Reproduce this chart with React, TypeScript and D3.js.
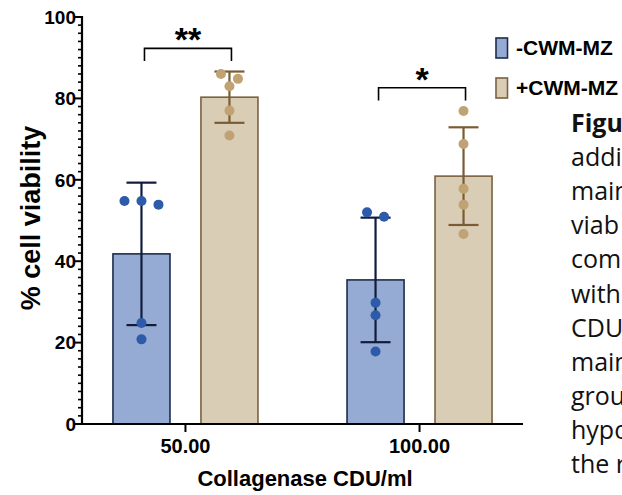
import React from 'react';
import * as d3 from 'd3';

const doses = ['50.00', '100.00'];
const seriesNames = ['-CWM-MZ', '+CWM-MZ'];
const meanMinus = [41.8, 35.4];
const meanPlus = [80.3, 60.9];
const sdMinus = [17.5, 15.3];
const sdPlus = [6.3, 12.0];
const pointsMinus = [
  [54.8, 54.8, 53.9, 24.8, 20.8],
  [52.0, 50.9, 29.8, 26.7, 17.8],
];
const pointsPlus = [
  [86.0, 84.8, 83.0, 77.0, 70.9],
  [76.9, 68.8, 57.8, 53.9, 46.7],
];
const yTicks = [0, 20, 40, 60, 80, 100];
const significance = ['**', '*'];
const captionLines = [
  'Figu', 'addi', 'main', 'viab', 'com', 'with',
  'CDU', 'main', 'grou', 'hypo', 'the r',
];

const W = 622;
const H = 495;
const AX = 82;
const AY = 424;

const colors = {
  minusFill: '#96abd3',
  minusStroke: '#1d2c4c',
  minusErr: '#0f1d3b',
  minusDot: '#2d5aa9',
  plusFill: '#dacdb5',
  plusStroke: '#7b6140',
  plusErr: '#7a5c34',
  plusDot: '#c0a273',
};

function spread(values: number[], ys: (v: number) => number, spacing: number, gap: number) {
  const idx = values.map((_, i) => i).sort((a, b) => values[b] - values[a]);
  const offsets = new Array(values.length).fill(0);
  let cluster: number[] = [];
  const flush = () => {
    cluster.forEach((k, j) => {
      offsets[k] = (j - (cluster.length - 1) / 2) * spacing;
    });
    cluster = [];
  };
  idx.forEach((i) => {
    if (cluster.length && ys(values[i]) - ys(values[cluster[0]]) > gap) flush();
    cluster.push(i);
  });
  flush();
  return offsets;
}

export default function App() {
  const y = d3.scaleLinear().domain([0, 100]).range([AY, 17]);
  const x0 = d3.scalePoint<string>().domain(doses).range([AX, 523]).padding(0.442);
  const x1 = d3.scaleBand<string>().domain(seriesNames).range([-72.5, 72.5]).paddingInner(0.352);
  const bw = x1.bandwidth();
  const minorTicks = d3.range(0, 101, 2).filter((v) => v % 20 !== 0);

  const series = [
    { name: seriesNames[0], means: meanMinus, sds: sdMinus, pts: pointsMinus, fill: colors.minusFill, stroke: colors.minusStroke, err: colors.minusErr, dot: colors.minusDot },
    { name: seriesNames[1], means: meanPlus, sds: sdPlus, pts: pointsPlus, fill: colors.plusFill, stroke: colors.plusStroke, err: colors.plusErr, dot: colors.plusDot },
  ];

  const font = "'Liberation Sans', Arial, sans-serif";

  return (
    <svg width={W} height={H} style={{ position: 'absolute', left: 0, top: 0, background: '#fff' }} fontFamily={font}>
      <defs>
        <clipPath id="pageClip">
          <rect x={0} y={0} width={W} height={H} />
        </clipPath>
      </defs>
      {/* bars */}
      {series.map((s) =>
        doses.map((d, gi) => {
          const cx = (x0(d) as number) + (x1(s.name) as number) + bw / 2;
          return (
            <rect key={s.name + d} x={cx - bw / 2} y={y(s.means[gi])} width={bw} height={AY - y(s.means[gi])}
              fill={s.fill} stroke={s.stroke} strokeWidth={1.6} />
          );
        })
      )}
      {/* error bars */}
      {series.map((s) =>
        doses.map((d, gi) => {
          const cx = (x0(d) as number) + (x1(s.name) as number) + bw / 2;
          const lo = y(s.means[gi] - s.sds[gi]);
          const hi = y(s.means[gi] + s.sds[gi]);
          const cw = 15;
          return (
            <g key={'e' + s.name + d} stroke={s.err} strokeWidth={2.2}>
              <line x1={cx} x2={cx} y1={lo} y2={hi} />
              <line x1={cx - cw} x2={cx + cw} y1={hi} y2={hi} />
              <line x1={cx - cw} x2={cx + cw} y1={lo} y2={lo} />
            </g>
          );
        })
      )}
      {/* points */}
      {series.map((s) =>
        doses.map((d, gi) => {
          const cx = (x0(d) as number) + (x1(s.name) as number) + bw / 2;
          const offs = spread(s.pts[gi], y, 17, 10);
          return s.pts[gi].map((v, k) => (
            <circle key={'p' + s.name + d + k} cx={cx + offs[k]} cy={y(v)} r={5} fill={s.dot} />
          ));
        })
      )}
      {/* y axis */}
      <line x1={AX} x2={AX} y1={y(100) - 1} y2={AY + 1} stroke="#000" strokeWidth={2.2} />
      {minorTicks.map((t) => (
        <line key={'m' + t} x1={AX - 4} x2={AX} y1={y(t)} y2={y(t)} stroke="#000" strokeWidth={1.6} />
      ))}
      {yTicks.map((t) => (
        <g key={'t' + t}>
          <line x1={AX - 7} x2={AX} y1={y(t)} y2={y(t)} stroke="#000" strokeWidth={2} />
          <text x={AX - 6} y={y(t)} dy="0.36em" textAnchor="end" fontSize={19} fontWeight="bold">{t}</text>
        </g>
      ))}
      {/* x axis */}
      <line x1={AX - 1} x2={523} y1={AY} y2={AY} stroke="#000" strokeWidth={2.2} />
      {doses.map((d) => (
        <g key={'x' + d}>
          <line x1={x0(d) as number} x2={x0(d) as number} y1={AY} y2={AY + 8} stroke="#000" strokeWidth={2} />
          <text x={(x0(d) as number)} y={453} textAnchor="middle" fontSize={20} fontWeight="bold">{d}</text>
        </g>
      ))}
      <text x={305} y={486} textAnchor="middle" fontSize={22} fontWeight="bold">Collagenase CDU/ml</text>
      <text transform="translate(40,218) rotate(-90)" textAnchor="middle" fontSize={27} fontWeight="bold">% cell viability</text>
      {/* significance */}
      {doses.map((d, gi) => {
        const xa = (x0(d) as number) + (x1(seriesNames[0]) as number) + bw / 2 + 3;
        const xb = (x0(d) as number) + (x1(seriesNames[1]) as number) + bw / 2 + 2;
        const top = Math.max(meanPlus[gi] + sdPlus[gi], ...pointsPlus[gi], meanMinus[gi] + sdMinus[gi], ...pointsMinus[gi]);
        const legY = y(top + 2.6);
        const topY = y(top + 5.7);
        return (
          <g key={'s' + d}>
            <path d={`M${xa},${legY}V${topY}H${xb}V${legY}`} fill="none" stroke="#000" strokeWidth={1.6} />
            <text x={(xa + xb) / 2} y={topY + 3} textAnchor="middle" fontSize={34} fontWeight="bold">{significance[gi]}</text>
          </g>
        );
      })}
      {/* legend */}
      {series.map((s, i) => (
        <g key={'l' + s.name} transform={`translate(496,${38 + i * 40})`}>
          <rect x={0} y={0} width={11.5} height={20} fill={s.fill} stroke={s.stroke} strokeWidth={1.6} />
          <text x={20} y={17} fontSize={21} fontWeight="bold">{s.name}</text>
        </g>
      ))}
      {/* caption fragment (cut off at the right edge, as in the source image) */}
      <g clipPath="url(#pageClip)">
        {captionLines.map((t, i) => (
          <text key={'c' + i} x={571} y={132 + i * 34.1} fontSize={25} fontFamily="'Open Sans', sans-serif"
            fontWeight={i === 0 ? 'bold' : 'normal'} fill="#111">{t}</text>
        ))}
      </g>
    </svg>
  );
}
